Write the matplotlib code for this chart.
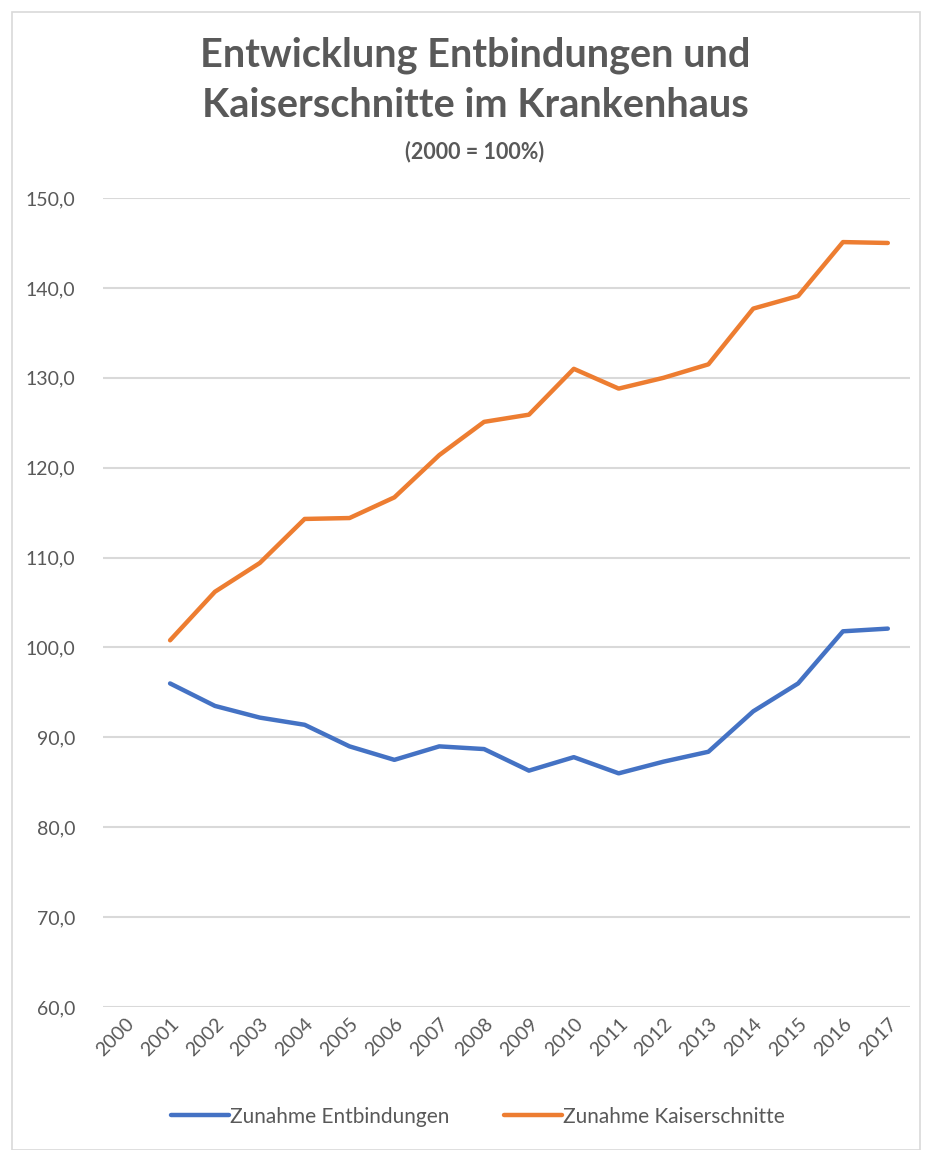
import matplotlib
matplotlib.use('Agg')
import matplotlib.pyplot as plt
from matplotlib.patches import Rectangle

# Daten (2000 = 100%)
jahre = [str(j) for j in range(2000, 2018)]
entbindungen = [None, 96.0, 93.5, 92.2, 91.4, 89.0, 87.5, 89.0, 88.7, 86.3,
                87.8, 86.0, 87.3, 88.4, 92.9, 96.0, 101.8, 102.1]
kaiserschnitte = [None, 100.8, 106.2, 109.4, 114.3, 114.4, 116.7, 121.4, 125.1,
                  125.9, 131.0, 128.8, 130.0, 131.5, 137.7, 139.1, 145.1, 145.0]
y_ticks = [60, 70, 80, 90, 100, 110, 120, 130, 140, 150]

plt.rcParams['font.family'] = ['Lato', 'DejaVu Sans']
grau = '#595959'

fig = plt.figure(figsize=(9.26, 11.5), dpi=100)
ax = fig.add_axes([0.111, 0.1243, 0.872, 0.7035])

x = list(range(len(jahre)))
xs = [i for i, v in zip(x, entbindungen) if v is not None]
ax.plot(xs, [v for v in entbindungen if v is not None], color='#4472C4',
        linewidth=3.2, solid_capstyle='round', label='Zunahme Entbindungen')
ax.plot(xs, [v for v in kaiserschnitte if v is not None], color='#ED7D31',
        linewidth=3.2, solid_capstyle='round', label='Zunahme Kaiserschnitte')

ax.set_xlim(-0.5, len(jahre) - 0.5)
ax.set_ylim(60, 150)
ax.set_yticks(y_ticks)
ax.set_yticklabels([f'{t:.1f}'.replace('.', ',') for t in y_ticks])
ax.set_xticks(x)
ax.set_xticklabels(jahre, rotation=45, ha='right', va='top', rotation_mode='anchor')
ax.tick_params(axis='both', length=0, labelsize=14, colors=grau)
ax.tick_params(axis='y', pad=20)
ax.tick_params(axis='x', pad=6)
ax.grid(axis='y', color='#D9D9D9', linewidth=1.5)
ax.set_axisbelow(True)
for s in ax.spines.values():
    s.set_visible(False)

fig.text(0.513, 0.952, 'Entwicklung Entbindungen und', ha='center', va='center',
         fontsize=28.5, fontweight='bold', color=grau)
fig.text(0.513, 0.908, 'Kaiserschnitte im Krankenhaus', ha='center', va='center',
         fontsize=28.5, fontweight='bold', color=grau)
fig.text(0.513, 0.868, '(2000 = 100%)', ha='center', va='center', fontsize=15.5,
         fontweight='bold', color=grau)

leg = fig.legend(loc='center', bbox_to_anchor=(0.516, 0.029), ncol=2, frameon=False,
                 fontsize=15, handlelength=2.8, handletextpad=0.05, columnspacing=2.6)
for t in leg.get_texts():
    t.set_color(grau)

# Rahmen des Diagramms
fig.patches.append(Rectangle((0.013, 0.0), 0.98, 0.99, transform=fig.transFigure,
                             fill=False, edgecolor='#D9D9D9', linewidth=1.2))

fig.savefig('out.png', dpi=100)
